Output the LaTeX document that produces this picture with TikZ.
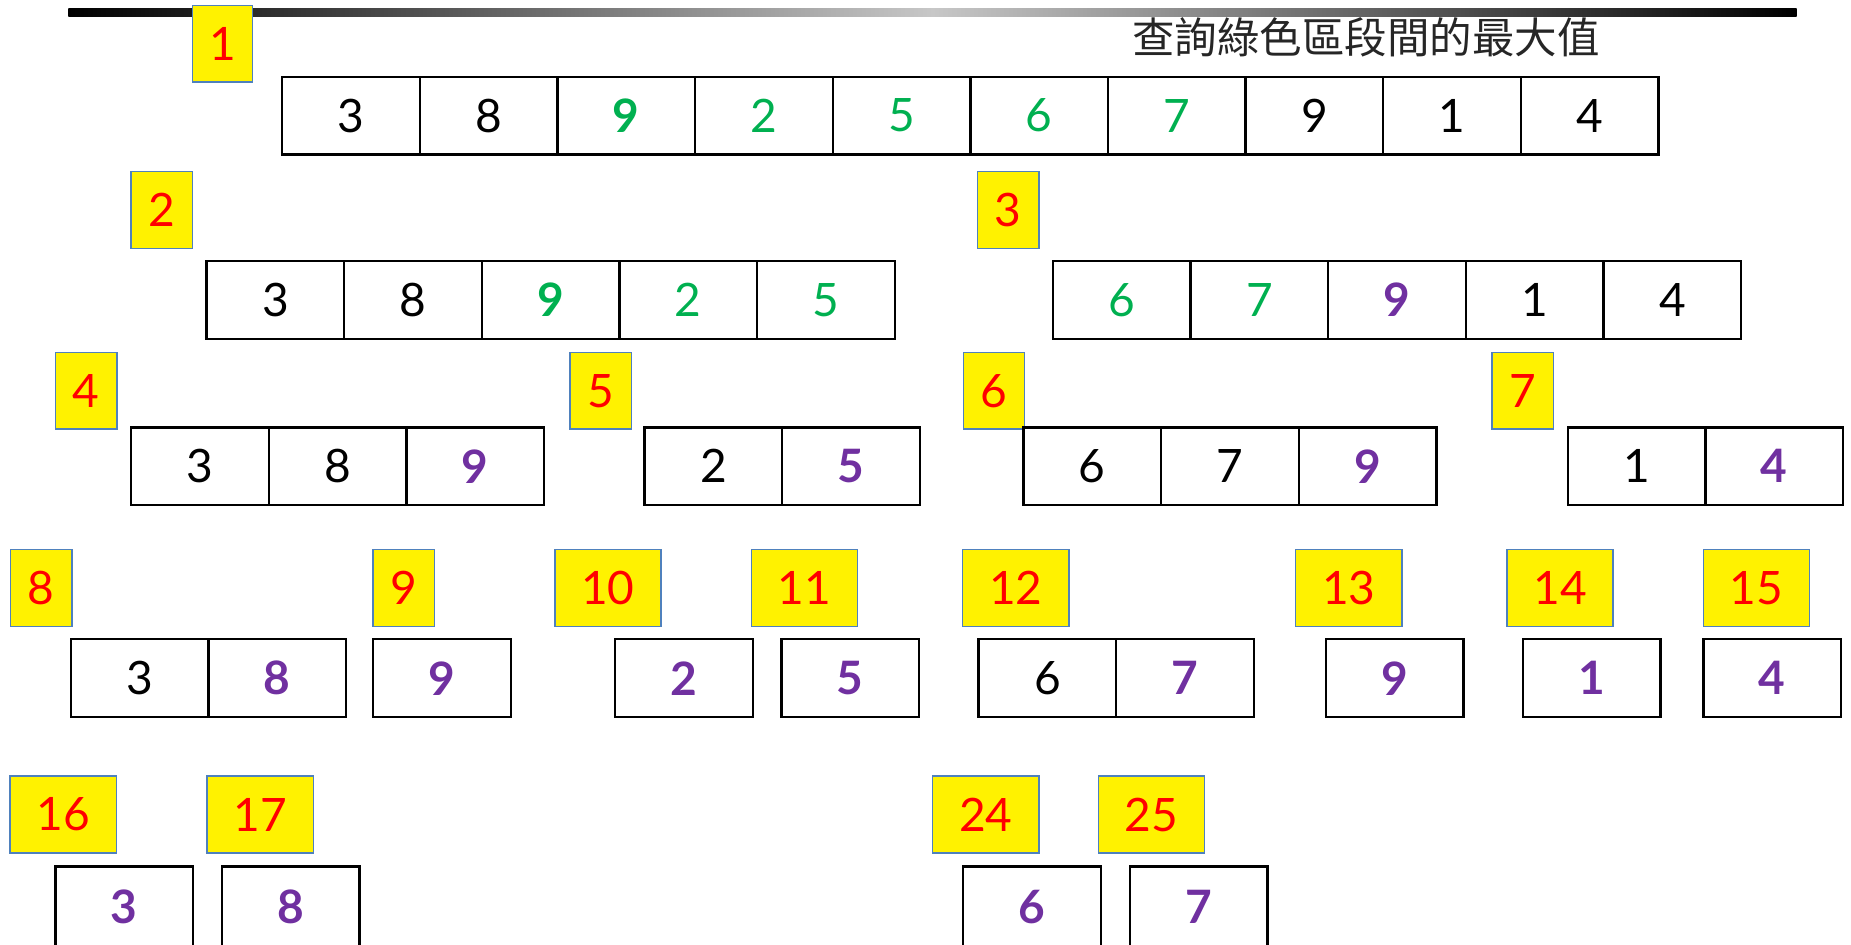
\documentclass[tikz,border=0pt]{standalone}
\usepackage{fontspec}
\setmainfont{Lato}
\newfontfamily\cjk{Noto Sans CJK TC}
\definecolor{grn}{RGB}{0,176,80}
\definecolor{prp}{RGB}{112,48,160}
\definecolor{lblborder}{RGB}{79,129,189}
\newcommand\numfont{\fontsize{39}{40}\selectfont}
\newcommand\cellat[4]{\node[cellbox] (#1) at (#2,#3) {#4};}
\newcommand\G[1]{\textcolor{grn}{#1}}
\newcommand\GB[1]{\textcolor{grn}{\bfseries #1}}
\newcommand\PB[1]{\textcolor{prp}{\bfseries #1}}
\tikzset{
  cellbox/.style={draw=black, line width=2pt, minimum width=116.6pt, minimum height=66pt,
    inner sep=0pt, font=\numfont, text=black},
  lbl/.style={draw=lblborder, fill=yellow, line width=1.2pt, minimum width=52pt,
    minimum height=65pt, inner sep=0pt, font=\numfont, text=red},
  lblw/.style={lbl, minimum width=90pt},
  lastbox/.style={cellbox, minimum height=68pt}
}
\begin{document}
\begin{tikzpicture}[x=1pt,y=-1pt]
\useasboundingbox (0,0) rectangle (1568,800);
\fill[white] (0,0) rectangle (1568,800);
% top bar
\shade[left color=black, right color=black, middle color=black!22] (58,7) rectangle (1522,14);
\node[font=\fontsize{36}{38}\selectfont\cjk, text=black!85, inner sep=0pt] (title) at (1157,32) {查詢綠色區段間的最大值};
% row 0
\node[lbl, minimum width=51pt] (L1) at (188.5,37) {1};
\cellat{a1}{297.3}{98}{3}
\cellat{a2}{413.9}{98}{8}
\cellat{a3}{530.5}{98}{\GB{9}}
\cellat{a4}{647.1}{98}{\G{2}}
\cellat{a5}{763.7}{98}{\G{5}}
\cellat{a6}{880.3}{98}{\G{6}}
\cellat{a7}{996.9}{98}{\G{7}}
\cellat{a8}{1113.5}{98}{9}
\cellat{a9}{1230.1}{98}{1}
\cellat{a10}{1346.7}{98}{4}
% row 1
\node[lbl] (L2) at (137,178) {2};
\cellat{b1}{233.3}{254}{3}
\cellat{b2}{349.9}{254}{8}
\cellat{b3}{466.5}{254}{\GB{9}}
\cellat{b4}{583.1}{254}{\G{2}}
\cellat{b5}{699.7}{254}{\G{5}}
\node[lbl] (L3) at (854,178) {3};
\cellat{c1}{950.3}{254}{\G{6}}
\cellat{c2}{1066.9}{254}{\G{7}}
\cellat{c3}{1183.5}{254}{\PB{9}}
\cellat{c4}{1300.1}{254}{1}
\cellat{c5}{1416.7}{254}{4}
% row 2
\node[lbl] (L4) at (73,331) {4};
\cellat{d1}{169.3}{395}{3}
\cellat{d2}{285.9}{395}{8}
\cellat{d3}{402.5}{395}{\PB{9}}
\node[lbl] (L5) at (509,331) {5};
\cellat{e1}{604.3}{395}{2}
\cellat{e2}{720.9}{395}{\PB{5}}
\node[lbl] (L6) at (842,331) {6};
\cellat{f1}{925.3}{395}{6}
\cellat{f2}{1041.9}{395}{7}
\cellat{f3}{1158.5}{395}{\PB{9}}
\node[lbl] (L7) at (1290,331) {7};
\cellat{g1}{1386.3}{395}{1}
\cellat{g2}{1502.9}{395}{\PB{4}}
% row 3
\node[lbl] (L8) at (35,498) {8};
\cellat{h1}{118.3}{574.5}{3}
\cellat{h2}{234.9}{574.5}{\PB{8}}
\node[lbl] (L9) at (342,498) {9};
\cellat{i1}{374.3}{574.5}{\PB{9}}
\node[lblw] (L10) at (515,498) {10};
\cellat{j1}{579.3}{574.5}{\PB{2}}
\node[lblw] (L11) at (681.5,498) {11};
\cellat{k1}{720.3}{574.5}{\PB{5}}
\node[lblw] (L12) at (860.5,498) {12};
\cellat{l1}{887.3}{574.5}{6}
\cellat{l2}{1003.9}{574.5}{\PB{7}}
\node[lblw] (L13) at (1142.5,498) {13};
\cellat{m1}{1181.3}{574.5}{\PB{9}}
\node[lblw] (L14) at (1321.5,498) {14};
\cellat{n1}{1348.3}{574.5}{\PB{1}}
\node[lblw] (L15) at (1488,498) {15};
\cellat{o1}{1501.3}{574.5}{\PB{4}}
% row 4
\node[lblw] (L16) at (53.5,690) {16};
\node[lastbox] (p1) at (105.3,768) {\PB{3}};
\node[lblw] (L17) at (220.5,690) {17};
\node[lastbox] (q1) at (246.3,768) {\PB{8}};
\node[lblw] (L24) at (835,690) {24};
\node[lastbox] (r1) at (874.3,768) {\PB{6}};
\node[lblw] (L25) at (975.5,690) {25};
\node[lastbox] (s1) at (1015.3,768) {\PB{7}};
\end{tikzpicture}
\end{document}
